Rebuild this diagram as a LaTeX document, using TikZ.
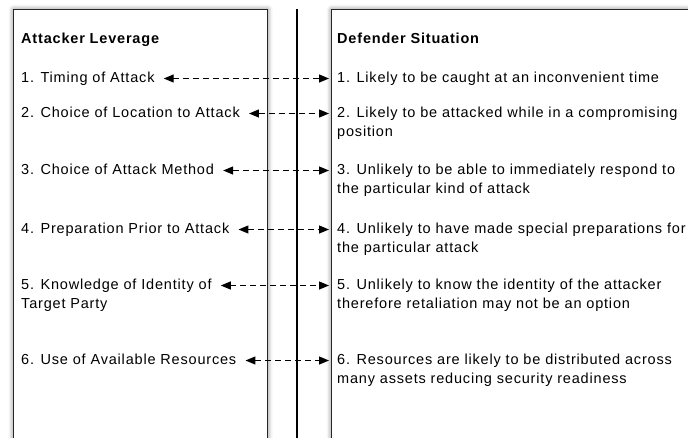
\documentclass[tikz,border=0pt]{standalone}
\usepackage{fontspec}
\setmainfont{Liberation Sans}[LetterSpace=5.6]
\usetikzlibrary{arrows.meta,shadows.blur}

\tikzset{
  panel/.style={draw=black!85, line width=1.2pt, fill=white,
    blur shadow={shadow xshift=0pt, shadow yshift=0pt,
                 shadow blur radius=5pt, shadow opacity=55}},
  divider/.style={line width=1.8pt, black},
  item/.style={anchor=north west, inner sep=0pt, align=left,
    font=\fontsize{14.5}{18.5}\selectfont},
  heading/.style={item, font=\fontsize{14.5}{18.5}\selectfont\bfseries},
  link/.style={line width=1.2pt, dash pattern=on 6pt off 4pt,
    {Triangle[length=10pt,width=8pt]}-{Triangle[length=10pt,width=8pt]},
    shorten <=9pt, shorten >=8pt}
}

\begin{document}
\begin{tikzpicture}[x=1pt, y=-1pt]
  \useasboundingbox (0,0) rectangle (688,437);
  \clip (0,0) rectangle (688,437);

  % the two columns and the line between them
  \node[panel, minimum width=254pt, minimum height=440pt, anchor=north west,
        inner sep=0pt] (lbox) at (13,9) {};
  \node[panel, minimum width=380pt, minimum height=440pt, anchor=north west,
        inner sep=0pt] (rbox) at (331,9) {};
  \coordinate (divtop) at (297,9);
  \coordinate (divbot) at (297,445);
  \draw[divider] (divtop) -- (divbot);

  % column headings
  \node[heading] (lhead) at (21,33) {Attacker Leverage};
  \node[heading] (rhead) at (337,33) {Defender Situation};

  % attacker side
  \node[item] (l1) at (21,72)  {1. Timing of Attack};
  \node[item] (l2) at (21,107) {2. Choice of Location to Attack};
  \node[item] (l3) at (21,164) {3. Choice of Attack Method};
  \node[item] (l4) at (21,223) {4. Preparation Prior to Attack};
  \node[item] (l5) at (21,279) {5. Knowledge of Identity of\\Target Party};
  \node[item] (l6) at (21,354) {6. Use of Available Resources};

  % defender side
  \node[item] (r1) at (337,72)  {1. Likely to be caught at an inconvenient time};
  \node[item] (r2) at (337,107) {2. Likely to be attacked while in a compromising\\position};
  \node[item] (r3) at (337,164) {3. Unlikely to be able to immediately respond to\\the particular kind of attack};
  \node[item] (r4) at (337,223) {4. Unlikely to have made special preparations for\\the particular attack};
  \node[item] (r5) at (337,279) {5. Unlikely to know the identity of the attacker\\therefore retaliation may not be an option};
  \node[item] (r6) at (337,354) {6. Resources are likely to be distributed across\\many assets reducing security readiness};

  % two-way links between matching items
  \foreach \i in {1,...,6}{
    \draw[link] ([yshift=-6.5pt]l\i.north east) -- ([yshift=-6.5pt]r\i.north west);
  }
\end{tikzpicture}
\end{document}
